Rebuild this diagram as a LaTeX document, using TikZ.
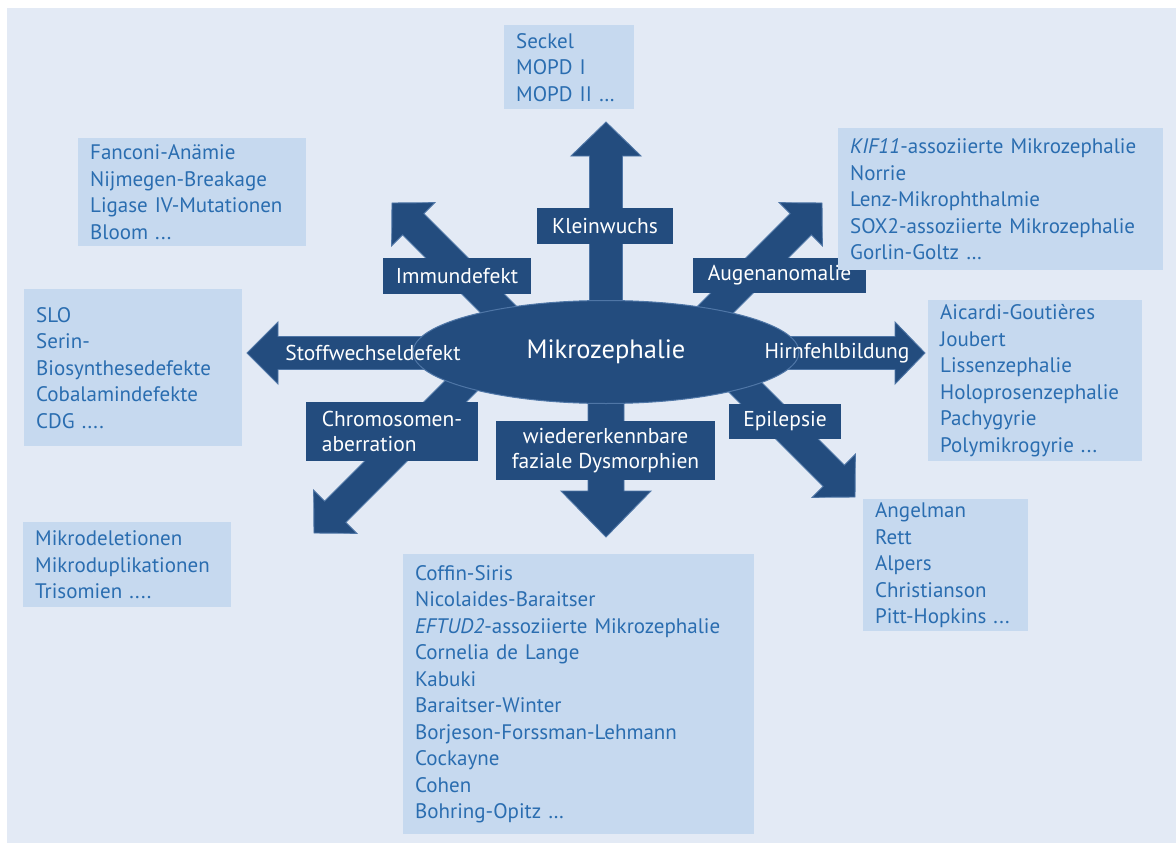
\documentclass[tikz,border=0pt]{standalone}
\usepackage{fontspec}
\setmainfont{PT Sans}
\usetikzlibrary{calc,shapes.geometric}

\definecolor{mzbg}{HTML}{E3EAF5}
\definecolor{mzlight}{HTML}{C6D9EF}
\definecolor{mzdark}{HTML}{234C7E}
\definecolor{mzedge}{HTML}{4F76A6}
\definecolor{mztext}{HTML}{2A6DB0}

% block arrow from #1 to #2: shaft half width #3, head length #4, head half width #5
\newcommand{\blockarrow}[5]{%
  \coordinate (hb) at ($(#2)!#4!(#1)$);
  \draw[arrowbody] ($(#1)!#3!90:(#2)$) -- ($(hb)!#3!90:(#2)$) -- ($(hb)!#5!90:(#2)$)
    -- (#2) -- ($(hb)!#5!-90:(#2)$) -- ($(hb)!#3!-90:(#2)$) -- ($(#1)!#3!-90:(#2)$) -- cycle;
}

\begin{document}
\begin{tikzpicture}[x=1pt,y=-1pt,
  arrowbody/.style={fill=mzdark, draw=mzedge, line width=0.9pt, line join=miter},
  lbl/.style={fill=mzdark, text=white, inner sep=0pt, align=center,
    font=\fontsize{21.5}{25.5}\selectfont},
  lbltext/.style={text=white, inner sep=0pt, font=\fontsize{21.5}{25.5}\selectfont},
  listbox/.style={fill=mzlight, text=mztext, anchor=north west, inner xsep=12pt,
    inner ysep=0pt, align=left, font=\fontsize{21}{26.5}\selectfont},
]
\useasboundingbox (0,0) rectangle (1176,843);
\fill[mzbg] (7,8) rectangle (1176,843);

% arrow anchor points
\coordinate (c) at (606,353);
\coordinate (up) at (606,122);
\coordinate (dn) at (606,537);
\coordinate (lt) at (247,353);
\coordinate (rt) at (925,353);
\coordinate (uls) at (542,353);
\coordinate (ul) at (392,203);
\coordinate (urs) at (672,353);
\coordinate (ur) at (822,203);
\coordinate (dls) at (494,353);
\coordinate (dl) at (314,533);
\coordinate (drs) at (705,347);
\coordinate (dr) at (855,497);

% the eight block arrows
\blockarrow{c}{up}{16.5pt}{34pt}{35pt}
\blockarrow{c}{dn}{18pt}{46pt}{45pt}
\blockarrow{c}{lt}{16.5pt}{31pt}{31pt}
\blockarrow{c}{rt}{16.5pt}{30pt}{31pt}
\blockarrow{uls}{ul}{15pt}{30pt}{30.5pt}
\blockarrow{urs}{ur}{15pt}{30pt}{30.5pt}
\blockarrow{dls}{dl}{15pt}{30pt}{30.5pt}
\blockarrow{drs}{dr}{15pt}{30pt}{30.5pt}

% centre
\node[ellipse, fill=mzdark, draw=mzedge, line width=1pt, minimum width=386pt,
  minimum height=103pt, inner sep=0pt, text=white,
  font=\fontsize{26.5}{30}\selectfont] (mz) at (606,352) {Mikrozephalie};

% arrow labels
\node[lbl, minimum width=136pt, minimum height=36pt] (kw) at (605,226) {Kleinwuchs};
\node[lbl, minimum width=148pt, minimum height=36pt] (imm) at (457,276) {Immundefekt};
\node[lbl, minimum width=173pt, minimum height=35pt] (aug) at (779.5,275.5) {Augenanomalie};
\node[lbltext] (stw) at (373,353) {Stoffwechseldefekt};
\node[lbltext] (hfb) at (837,353) {Hirnfehlbildung};
\node[lbl, minimum width=172pt, minimum height=59pt, align=left] (chr) at (392,431.5)
  {Chromosomen-\\aberration};
\node[lbl, minimum width=219pt, minimum height=59pt] (faz) at (605.5,450.5)
  {wiedererkennbare\\faziale Dysmorphien};
\node[lbl, minimum width=112pt, minimum height=35pt] (epi) at (785,421.5) {Epilepsie};

% lists
\node[listbox, text width=106pt, minimum height=84pt] (seckel) at (504,25)
  {Seckel\\MOPD I\\MOPD II …};
\node[listbox, text width=204pt, minimum height=108pt] (fanconi) at (78,138)
  {Fanconi-Anämie\\Nijmegen-Breakage\\Ligase IV-Mutationen\\Bloom ...};
\node[listbox, text width=301pt, minimum height=142pt] (kif) at (838,128)
  {\textit{KIF11}-assoziierte Mikrozephalie\\Norrie\\Lenz-Mikrophthalmie\\SOX2-assoziierte Mikrozephalie\\Gorlin-Goltz …};
\node[listbox, text width=194pt, minimum height=157pt] (slo) at (24,289)
  {SLO\\Serin-\\Biosynthesedefekte\\Cobalamindefekte\\CDG ....};
\node[listbox, text width=184pt, minimum height=85pt] (mikro) at (23,522)
  {Mikrodeletionen\\Mikroduplikationen\\Trisomien ....};
\node[listbox, text width=190pt, minimum height=161pt] (aicardi) at (928,300)
  {Aicardi-Goutières\\Joubert\\Lissenzephalie\\Holoprosenzephalie\\Pachygyrie\\Polymikrogyrie ...};
\node[listbox, text width=141pt, minimum height=132pt] (angel) at (863,499)
  {Angelman\\Rett\\Alpers\\Christianson\\Pitt-Hopkins ...};
\node[listbox, text width=327pt, minimum height=280pt] (coffin) at (403,554)
  {Coffin-Siris\\Nicolaides-Baraitser\\\textit{EFTUD2}-assoziierte Mikrozephalie\\Cornelia de Lange\\Kabuki\\Baraitser-Winter\\Borjeson-Forssman-Lehmann\\Cockayne\\Cohen\\Bohring-Opitz …};
\end{tikzpicture}
\end{document}
